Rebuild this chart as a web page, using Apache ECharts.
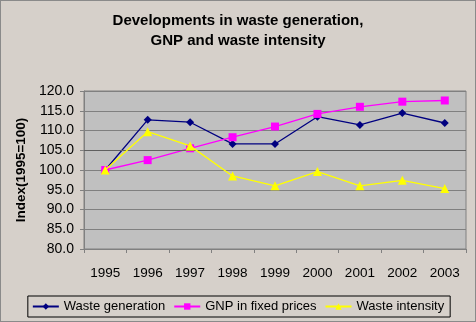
<!DOCTYPE html>
<html>
<head>
<meta charset="utf-8">
<script src="https://cdn.jsdelivr.net/npm/echarts@6/dist/echarts.min.js"></script>
<style>
  html, body { margin: 0; padding: 0; background: #d6d0ca; }
  #chart { width: 476px; height: 322px; box-sizing: border-box; border: 1px solid #8a8a8a; }
</style>
</head>
<body>
<div id="chart"></div>
<script>
// Years on the category axis
const years = ['1995', '1996', '1997', '1998', '1999', '2000', '2001', '2002', '2003'];
// Index values (1995 = 100)
const wasteGeneration = [100.0, 112.7, 112.1, 106.6, 106.6, 113.5, 111.4, 114.4, 111.9];
const gnpFixedPrices = [100.0, 102.5, 105.5, 108.3, 111.0, 114.2, 116.0, 117.3, 117.6];
const wasteIntensity = [100.0, 109.7, 106.1, 98.5, 96.0, 99.6, 96.0, 97.4, 95.3];

const font = 'Arial, "Liberation Sans", sans-serif';

const chart = echarts.init(document.getElementById('chart'));
chart.setOption({
  backgroundColor: '#d6d0ca',
  animation: false,
  title: {
    text: 'Developments in waste generation,\nGNP and waste intensity',
    left: 'center',
    top: 5,
    textStyle: { fontFamily: font, fontSize: 15, fontWeight: 'bold', color: '#000', lineHeight: 20 }
  },
  grid: {
    left: 83, right: 9, top: 90, bottom: 72,
    show: true, backgroundColor: '#c0c0c0', borderColor: '#808080', borderWidth: 1
  },
  legend: {
    bottom: 4,
    left: 'center',
    itemGap: 8,
    itemWidth: 26,
    itemHeight: 8,
    padding: [4, 6, 4, 4],
    borderColor: '#000',
    borderWidth: 1,
    textStyle: { fontFamily: font, fontSize: 13, color: '#000' },
    data: ['Waste generation', 'GNP in fixed prices', 'Waste intensity']
  },
  xAxis: {
    type: 'category',
    data: years,
    boundaryGap: true,
    axisLine: { lineStyle: { color: '#808080' } },
    axisTick: { show: true, length: 4, lineStyle: { color: '#808080' } },
    axisLabel: { fontFamily: font, fontSize: 13.5, color: '#000', margin: 17 },
    splitLine: { show: false }
  },
  yAxis: {
    type: 'value',
    min: 80, max: 120, interval: 5,
    name: 'Index(1995=100)',
    nameLocation: 'middle',
    nameGap: 50,
    nameTextStyle: { fontFamily: font, fontSize: 13.5, fontWeight: 'bold', color: '#000' },
    axisLine: { show: true, lineStyle: { color: '#808080' } },
    axisTick: { show: true, length: 4, lineStyle: { color: '#808080' } },
    axisLabel: { fontFamily: font, fontSize: 14, color: '#000', margin: 10,
      formatter: v => v.toFixed(1) },
    splitLine: { lineStyle: { color: '#808080', width: 1 } }
  },
  series: [
    {
      name: 'Waste generation', type: 'line', data: wasteGeneration,
      symbol: 'diamond', symbolSize: 8,
      lineStyle: { color: '#000080', width: 1.3 },
      itemStyle: { color: '#000080' },
      markLine: {
        silent: true, symbol: 'none', label: { show: false },
        lineStyle: { color: '#606060', width: 1.2, type: 'solid' },
        data: [{ yAxis: 105 }]
      },
      z: 3
    },
    {
      name: 'GNP in fixed prices', type: 'line', data: gnpFixedPrices,
      symbol: 'rect', symbolSize: 8,
      lineStyle: { color: '#ff00ff', width: 1.3 },
      itemStyle: { color: '#ff00ff' },
      z: 4
    },
    {
      name: 'Waste intensity', type: 'line', data: wasteIntensity,
      symbol: 'triangle', symbolSize: 9,
      lineStyle: { color: '#ffff00', width: 1.3 },
      itemStyle: { color: '#ffff00' },
      z: 5
    }
  ]
});
</script>
</body>
</html>
